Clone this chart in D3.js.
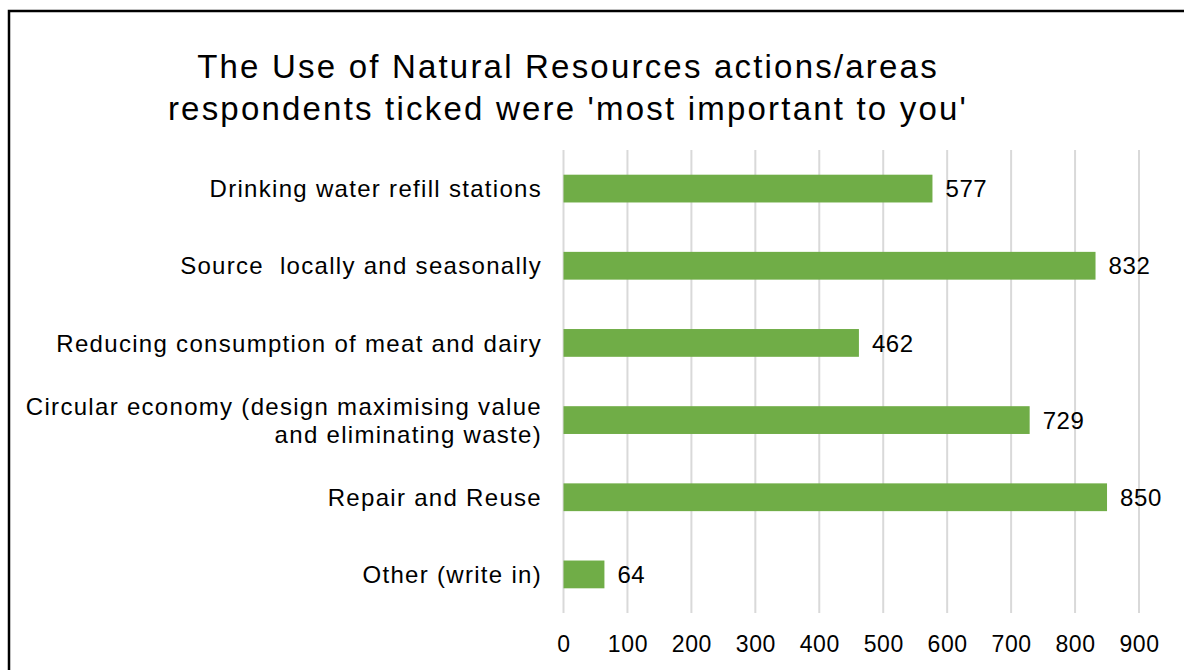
<!DOCTYPE html>
<html><head><meta charset="utf-8">
<script src="https://cdn.jsdelivr.net/npm/d3@7"></script>
<style>body{margin:0;background:#fff;}svg{display:block;font-family:"Liberation Sans",Arial,sans-serif;} text{white-space:pre;}</style>
</head><body><svg id="c" width="1184" height="670"></svg>
<script>
const titleLines = ["The Use of Natural Resources actions/areas", "respondents ticked were 'most important to you'"];
const categories = [
  ["Drinking water refill stations"],
  ["Source  locally and seasonally"],
  ["Reducing consumption of meat and dairy"],
  ["Circular economy (design maximising value", "and eliminating waste)"],
  ["Repair and Reuse"],
  ["Other (write in)"]
];
const values = [577, 832, 462, 729, 850, 64];
const xTicks = [0,100,200,300,400,500,600,700,800,900];

(function(){
const svg = d3.select("#c");
svg.append("rect").attr("x",9).attr("y",11).attr("width",1200).attr("height",700)
  .attr("fill","#fff").attr("stroke","#000").attr("stroke-width",2.5);

const tg = svg.append("g");
titleLines.forEach((t,i)=>tg.append("text").attr("x",568).attr("y",78+i*42)
  .attr("text-anchor","middle").attr("font-size",33).attr("letter-spacing",2.2)
  .attr("fill","#000").text(t));

const pL=563.5, pR=1139, pT=150, pB=613;
const x = d3.scaleLinear().domain([0,900]).range([pL,pR]);
const keys = categories.map((c,i)=>i);
const y = d3.scaleBand().domain(keys).range([pT,pB]).paddingInner(0.64).paddingOuter(0.32);

const grid = svg.append("g");
grid.selectAll("line").data(xTicks).join("line")
  .attr("x1",d=>x(d)).attr("x2",d=>x(d)).attr("y1",pT).attr("y2",pB)
  .attr("stroke","#d9d9d9").attr("stroke-width",2);

const ax = svg.append("g").attr("transform",`translate(0,${pB})`)
  .call(d3.axisBottom(x).tickValues(xTicks).tickSize(0).tickPadding(23));
ax.select(".domain").remove();
ax.selectAll("text").attr("font-size",23).attr("letter-spacing",0.6).attr("fill","#000")
  .attr("font-family","Liberation Sans, Arial, sans-serif");

svg.append("g").selectAll("rect").data(values).join("rect")
  .attr("x",x(0)).attr("y",(d,i)=>y(i)).attr("width",d=>x(d)-x(0)).attr("height",y.bandwidth())
  .attr("fill","#70AD47");

svg.append("g").selectAll("text").data(values).join("text")
  .attr("x",d=>x(d)+13).attr("y",(d,i)=>y(i)+y.bandwidth()/2).attr("dy","0.36em")
  .attr("font-size",24).attr("letter-spacing",0.6).attr("fill","#000").text(d=>d);

const lg = svg.append("g");
categories.forEach((lines,i)=>{
  const cy = y(i)+y.bandwidth()/2;
  const n = lines.length;
  lines.forEach((t,j)=>{
    lg.append("text").attr("x",542).attr("y",cy+(j-(n-1)/2)*28).attr("dy","0.36em")
      .attr("text-anchor","end").attr("font-size",24).attr("letter-spacing",1.3)
      .attr("fill","#000").text(t);
  });
});
})();
</script></body></html>
